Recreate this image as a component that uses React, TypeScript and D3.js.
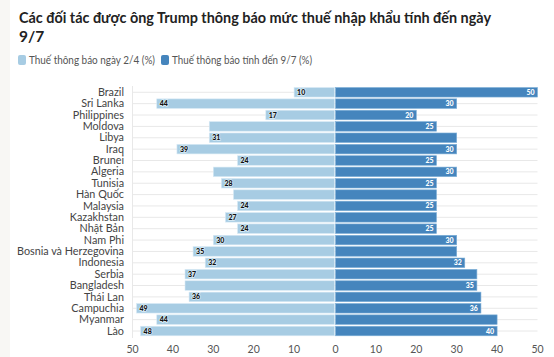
import React from "react";
import * as d3 from "d3";

const countries = ["Brazil","Sri Lanka","Philippines","Moldova","Libya","Iraq","Brunei","Algeria","Tunisia","Hàn Quốc","Malaysia","Kazakhstan","Nhật Bản","Nam Phi","Bosnia và Herzegovina","Indonesia","Serbia","Bangladesh","Thái Lan","Campuchia","Myanmar","Lào"];
const aprilRates = [10,44,17,31,31,39,24,30,28,25,24,27,24,30,35,32,37,37,36,49,44,48];
const julyRates = [50,30,20,25,30,30,25,30,25,25,25,25,25,30,30,32,35,35,36,36,40,40];
const aprilLabelShown = [1,1,1,0,1,1,1,0,1,0,1,1,1,1,1,1,1,0,1,1,1,1];
const julyLabelShown = [1,1,1,1,0,1,1,1,1,0,1,0,1,1,0,1,0,1,0,1,0,1];
const leftTicks = [50,40,30,20,10];
const rightTicks = [0,10,20,30,40,50];
const titleLines = ["Các đối tác được ông Trump thông báo mức thuế nhập khẩu tính đến ngày","9/7"];
const legendLabels = ["Thuế thông báo ngày 2/4 (%)","Thuế thông báo tính đến 9/7 (%)"];

const W = 554, H = 357;
const LIGHT = "#a7cce3";
const DARK = "#4585bd";
const FONT = "Lato, 'Noto Sans', sans-serif";

export default function App() {
  const xl = d3.scaleLinear().domain([0, 50]).range([334.5, 132.5]);
  const xr = d3.scaleLinear().domain([0, 50]).range([335.5, 537.5]);
  const y = d3.scaleBand<string>().domain(countries).range([86.6, 336.7]).paddingInner(0.16).paddingOuter(0.08);
  const bh = y.bandwidth();
  return (
    <svg width={W} height={H} style={{ position: "absolute", left: 0, top: 0, background: "#fff" }} fontFamily={FONT}>
      <rect x={0} y={0} width={10} height={H} fill="#f8f7f4" />
      {titleLines.map((t, i) => (
        <text key={i} x={19} y={23 + i * 19} fontSize={15.5} fontWeight={700} fill="#222"
          textLength={i === 0 ? 472 : undefined} lengthAdjust="spacingAndGlyphs">{t}</text>
      ))}
      <g fontSize={10.5} fill="#555">
        <rect x={18} y={55} width={8} height={10} rx={2} fill={LIGHT} />
        <text x={29} y={64} textLength={126} lengthAdjust="spacingAndGlyphs">{legendLabels[0]}</text>
        <rect x={161} y={55} width={8} height={10} rx={2} fill={DARK} />
        <text x={172} y={64} textLength={140} lengthAdjust="spacingAndGlyphs">{legendLabels[1]}</text>
      </g>
      {/* gridlines */}
      {countries.map((c) => {
        const cy = (y(c) as number) + bh / 2;
        return <line key={c} x1={132.5} x2={537.5} y1={cy} y2={cy} stroke="#e8e8e8" strokeWidth={1} />;
      })}
      <line x1={132.5} x2={132.5} y1={86} y2={338} stroke="#e8e8e8" />
      {/* bars */}
      {countries.map((c, i) => {
        const y0 = y(c) as number;
        return (
          <g key={c}>
            <rect x={xl(aprilRates[i])} y={y0} width={xl(0) - xl(aprilRates[i])} height={bh} fill={LIGHT} stroke="#d8eaf5" strokeWidth={0.6} />
            <rect x={xr(0)} y={y0} width={xr(julyRates[i]) - xr(0)} height={bh} fill={DARK} stroke="#7fb0d8" strokeWidth={0.6} />
            {aprilLabelShown[i] ? (
              <text x={xl(aprilRates[i]) + 3} y={y0 + bh / 2 + 2.5} fontSize={7} fontWeight={900} fill="#111"
                stroke="#d9ebf6" strokeWidth={1.5} paintOrder="stroke">{aprilRates[i]}</text>
            ) : null}
            {julyLabelShown[i] ? (
              <text x={xr(julyRates[i]) - 3} y={y0 + bh / 2 + 2.5} fontSize={7} fontWeight={900} fill="#fff" textAnchor="end">{julyRates[i]}</text>
            ) : null}
            <text x={124} y={y0 + bh / 2 + 3.6} fontSize={10.8} fill="#444" textAnchor="end">{c}</text>
          </g>
        );
      })}
      {/* axis labels */}
      <g fontSize={10.5} fill="#555" textAnchor="middle">
        {leftTicks.map((t) => <text key={"l" + t} x={xl(t)} y={353}>{t}</text>)}
        {rightTicks.map((t) => <text key={"r" + t} x={xr(t)} y={353}>{t}</text>)}
      </g>
    </svg>
  );
}
